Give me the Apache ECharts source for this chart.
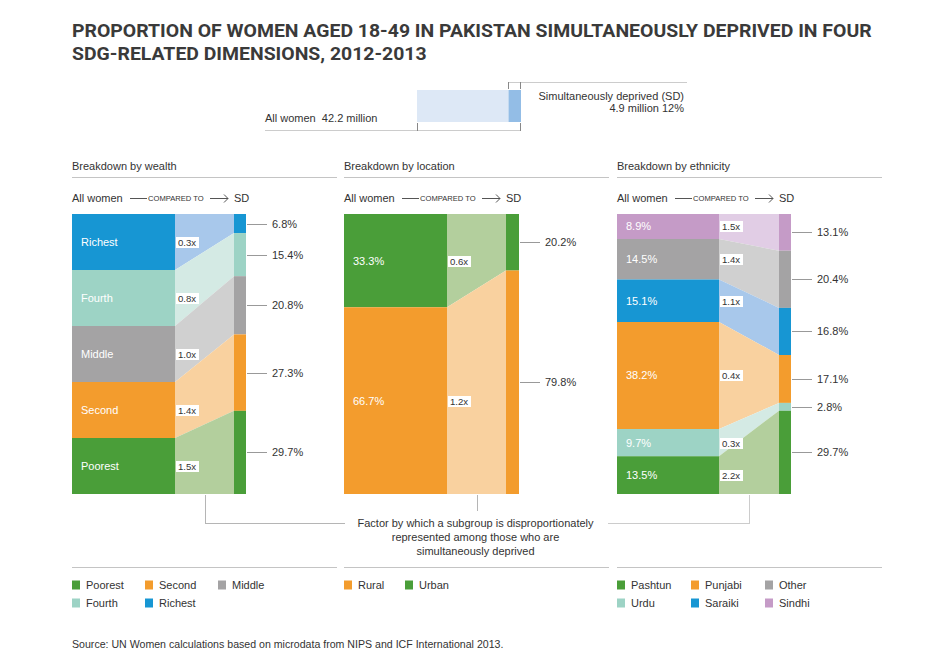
<!DOCTYPE html>
<html><head><meta charset="utf-8">
<script src="https://cdn.jsdelivr.net/npm/echarts@6/dist/echarts.min.js"></script>
<style>html,body{margin:0;padding:0;background:#fff}#c{width:940px;height:668px}</style>
</head><body><div id="c"></div>
<script>
// ---------------- DATA ----------------
const titleLines = ['PROPORTION OF WOMEN AGED 18-49 IN PAKISTAN SIMULTANEOUSLY DEPRIVED IN FOUR', 'SDG-RELATED DIMENSIONS, 2012-2013'];
const summaryAllLabel = 'All women  42.2 million';
const summarySDLabel = ['Simultaneously deprived (SD)', '4.9 million 12%'];
const summarySDPct = 12;

// top-to-bottom order
const wealthCats   = ['Richest', 'Fourth', 'Middle', 'Second', 'Poorest'];
const wealthAll    = [20, 20, 20, 20, 20];
const wealthSD     = [6.8, 15.4, 20.8, 27.3, 29.7];
const wealthFactor = ['0.3x', '0.8x', '1.0x', '1.4x', '1.5x'];
const wealthLegend = ['Poorest', 'Second', 'Middle', 'Fourth', 'Richest'];

const locationCats   = ['Urban', 'Rural'];
const locationAll    = [33.3, 66.7];
const locationSD     = [20.2, 79.8];
const locationFactor = ['0.6x', '1.2x'];
const locationLegend = ['Rural', 'Urban'];

const ethCats   = ['Sindhi', 'Other', 'Saraiki', 'Punjabi', 'Urdu', 'Pashtun'];
const ethAll    = [8.9, 14.5, 15.1, 38.2, 9.7, 13.5];
const ethSD     = [13.1, 20.4, 16.8, 17.1, 2.8, 29.7];
const ethFactor = ['1.5x', '1.4x', '1.1x', '0.4x', '0.3x', '2.2x'];
const ethLegend = ['Pashtun', 'Punjabi', 'Other', 'Urdu', 'Saraiki', 'Sindhi'];

const factorNote = ['Factor by which a subgroup is disproportionately', 'represented among those who are', 'simultaneously deprived'];
const sourceText = 'Source: UN Women calculations based on microdata from NIPS and ICF International 2013.';

// ---------------- STYLE ----------------
const FONT = '"Liberation Sans", Arial, sans-serif';
const TXT = '#333333';
const PAL = {
  green:  ['#4a9e39', '#b3cf9d'],
  orange: ['#f39c2d', '#f9d19f'],
  grey:   ['#a4a3a4', '#d0d0d0'],
  teal:   ['#9dd3c5', '#d4eae4'],
  blue:   ['#1796d3', '#a8c8eb'],
  purple: ['#c59bc7', '#e1cde5']
};
const catColor = {
  Richest: 'blue', Fourth: 'teal', Middle: 'grey', Second: 'orange', Poorest: 'green',
  Urban: 'green', Rural: 'orange',
  Sindhi: 'purple', Other: 'grey', Saraiki: 'blue', Punjabi: 'orange', Urdu: 'teal', Pashtun: 'green'
};

const TOP = 214, H = 280;
const panels = [
  {title: 'Breakdown by wealth', x: 72, barW: 103, ribEnd: 162, w: 174, lineEnd: 337,
   cats: wealthCats, all: wealthAll, sd: wealthSD, factor: wealthFactor, inside: wealthCats,
   legend: wealthLegend, legCol: 73},
  {title: 'Breakdown by location', x: 344, barW: 103, ribEnd: 162, w: 175, lineEnd: 609,
   cats: locationCats, all: locationAll, sd: locationSD, factor: locationFactor,
   inside: locationAll.map(v => v.toFixed(1) + '%'), legend: locationLegend, legCol: 61},
  {title: 'Breakdown by ethnicity', x: 617, barW: 102, ribEnd: 162, w: 174, lineEnd: 882,
   cats: ethCats, all: ethAll, sd: ethSD, factor: ethFactor,
   inside: ethAll.map(v => v.toFixed(1) + '%'), legend: ethLegend, legCol: 74}
];

// ---------------- HELPERS ----------------
const G = [];
function T(x, y, s, size, o) {
  o = o || {};
  G.push({type: 'text', x: x, y: y, silent: true, scaleX: o.scaleX || 1, z: 10,
    style: {x: 0, y: 0, text: s, fill: o.fill || TXT, font: (o.weight || 'normal') + ' ' + size + 'px ' + (o.family || FONT),
      align: o.align || 'left', verticalAlign: 'middle', textAlign: o.align || 'left', textVerticalAlign: 'middle'}});
}
function L(x1, y1, x2, y2, c) {
  G.push({type: 'line', silent: true, z: 5, shape: {x1: x1, y1: y1, x2: x2, y2: y2}, style: {stroke: c || '#bbbbbb', lineWidth: 1}});
}
function PL(pts, c) {
  G.push({type: 'polyline', silent: true, z: 5, shape: {points: pts}, style: {stroke: c || '#555', lineWidth: 1, fill: null}});
}
function R(x, y, w, h, c) {
  G.push({type: 'rect', silent: true, z: 5, shape: {x: x, y: y, width: w, height: h}, style: {fill: c}});
}

// ---------------- TITLE ----------------
const mctx = document.createElement('canvas').getContext('2d');
mctx.font = 'bold 19px Roboto';
const tScale = 800 / mctx.measureText(titleLines[0]).width;
T(72, 31, titleLines[0], 19, {weight: 'bold', family: 'Roboto', fill: '#3a3a3a', scaleX: tScale});
T(72, 54, titleLines[1], 19, {weight: 'bold', family: 'Roboto', fill: '#3a3a3a', scaleX: tScale});

// ---------------- SUMMARY ----------------
L(508.5, 82.5, 687, 82.5, '#cccccc');
L(508.5, 82, 508.5, 89, '#888888');
L(520.5, 82, 520.5, 89, '#888888');
L(265, 130.5, 521, 130.5, '#cccccc');
L(417.5, 123, 417.5, 131, '#888888');
L(520.5, 123, 520.5, 131, '#888888');
T(265, 118, summaryAllLabel, 11);
T(684, 96, summarySDLabel[0], 11, {align: 'right'});
T(684, 108, summarySDLabel[1], 11, {align: 'right'});

// ---------------- PANEL DECORATIONS ----------------
panels.forEach(function (p) {
  T(p.x, 166, p.title, 11);
  L(p.x, 177.5, p.lineEnd, 177.5, '#c4c4c4');
  T(p.x, 198, 'All women', 11);
  L(p.x + 58, 198.5, p.x + 75, 198.5, '#555');
  T(p.x + 76, 198.5, 'COMPARED TO', 7.6);
  L(p.x + 138, 198.5, p.x + 156, 198.5, '#555');
  PL([[p.x + 152, 194.5], [p.x + 156, 198.5], [p.x + 152, 202.5]], '#555');
  T(p.x + p.ribEnd, 198, 'SD', 11);
  // bottom legend
  L(p.x, 567.5, p.lineEnd, 567.5, '#c4c4c4');
  p.legend.forEach(function (name, k) {
    const col = k % 3, row = Math.floor(k / 3);
    const lx = p.x + col * p.legCol, ly = 585 + row * 18;
    R(lx, ly - 4.5, 8, 9, PAL[catColor[name]][0]);
    T(lx + 14, ly, name, 11);
  });
});

// factor connector
(function () {
  const w = panels[0], l = panels[1], e = panels[2];
  const cw = w.x + (w.barW + w.ribEnd) / 2, cl = l.x + (l.barW + l.ribEnd) / 2, ce = e.x + (e.barW + e.ribEnd) / 2;
  L(Math.round(cw) + 0.5, 495, Math.round(cw) + 0.5, 523.5, '#b5b5b5');
  L(Math.round(cw), 523.5, 345, 523.5, '#b5b5b5');
  L(Math.round(cl) + 0.5, 495, Math.round(cl) + 0.5, 511, '#b5b5b5');
  L(608, 523.5, Math.round(ce) + 1, 523.5, '#cccccc');
  L(Math.round(ce) + 0.5, 495, Math.round(ce) + 0.5, 523.5, '#cccccc');
  factorNote.forEach(function (s, k) { T(cl - 1, 523 + k * 14, s, 11, {align: 'center'}); });
})();
T(72, 644, sourceText, 10.6);

// ---------------- SERIES ----------------
const grids = [], xAxes = [], yAxes = [], series = [];
panels.forEach(function (p, pi) {
  grids.push({left: p.x, top: TOP, width: p.w, height: H});
  xAxes.push({type: 'value', gridIndex: pi, min: 0, max: p.w, show: false});
  const mx = Math.max(p.all.reduce((a, b) => a + b, 0), p.sd.reduce((a, b) => a + b, 0));
  yAxes.push({type: 'value', gridIndex: pi, min: 0, max: mx, inverse: true, show: false});
  const data = [];
  let ca = 0, cs = 0;
  p.cats.forEach(function (c, i) {
    data.push([ca, ca + p.all[i], cs, cs + p.sd[i], i]);
    ca += p.all[i]; cs += p.sd[i];
  });
  series.push({
    type: 'custom', xAxisIndex: pi, yAxisIndex: pi, data: data, silent: true,
    renderItem: function (params, api) {
      const i = api.value(4);
      const a0 = api.coord([0, api.value(0)]), a1 = api.coord([p.barW, api.value(1)]);
      const s0 = api.coord([p.ribEnd, api.value(2)]), s1 = api.coord([p.w, api.value(3)]);
      const col = PAL[catColor[p.cats[i]]];
      const midA = (a0[1] + a1[1]) / 2, midS = (s0[1] + s1[1]) / 2;
      return {
        type: 'group', children: [
          {type: 'rect', z2: 1, shape: {x: a0[0], y: a0[1], width: a1[0] - a0[0], height: a1[1] - a0[1]}, style: {fill: col[0]}},
          {type: 'polygon', z2: 1, shape: {points: [[a1[0], a0[1]], [s0[0], s0[1]], [s0[0], s1[1]], [a1[0], a1[1]]]}, style: {fill: col[1]}},
          {type: 'rect', z2: 1, shape: {x: s0[0], y: s0[1], width: s1[0] - s0[0], height: s1[1] - s0[1]}, style: {fill: col[0]}},
          {type: 'text', z2: 20, style: {x: a0[0] + 9, y: midA, text: p.inside[i], fill: '#ffffff', font: '11px ' + FONT,
            align: 'left', verticalAlign: 'middle', textAlign: 'left', textVerticalAlign: 'middle'}},
          {type: 'rect', z2: 20, shape: {x: a1[0] + 1, y: Math.round(midA) - 5, width: 23, height: 11}, style: {fill: '#ffffff'}},
          {type: 'text', z2: 21, style: {x: a1[0] + 3, y: Math.round(midA) + 0.5, text: p.factor[i], fill: TXT, font: '9.6px ' + FONT,
            align: 'left', verticalAlign: 'middle', textAlign: 'left', textVerticalAlign: 'middle'}},
          {type: 'line', z2: 20, shape: {x1: s1[0] + 1, y1: Math.round(midS) + 0.5, x2: s1[0] + 21, y2: Math.round(midS) + 0.5}, style: {stroke: '#999999', lineWidth: 1}},
          {type: 'text', z2: 20, style: {x: s1[0] + 26, y: midS, text: p.sd[i].toFixed(1) + '%', fill: TXT, font: '11px ' + FONT,
            align: 'left', verticalAlign: 'middle', textAlign: 'left', textVerticalAlign: 'middle'}}
        ]
      };
    }
  });
});

// summary bar
grids.push({left: 417, top: 90, width: 104, height: 32});
xAxes.push({type: 'value', gridIndex: 3, min: 0, max: 100, show: false});
yAxes.push({type: 'category', gridIndex: 3, data: ['all'], show: false});
series.push({type: 'bar', xAxisIndex: 3, yAxisIndex: 3, stack: 's', barWidth: 32, silent: true,
  data: [100 - summarySDPct], itemStyle: {color: '#dde8f6'}});
series.push({type: 'bar', xAxisIndex: 3, yAxisIndex: 3, stack: 's', barWidth: 32, silent: true,
  data: [summarySDPct], itemStyle: {color: '#93bde6'}});

const chart = echarts.init(document.getElementById('c'), null, {renderer: 'svg'});
chart.setOption({
  animation: false,
  backgroundColor: '#ffffff',
  grid: grids, xAxis: xAxes, yAxis: yAxes, series: series,
  graphic: {elements: G}
});
</script></body></html>
